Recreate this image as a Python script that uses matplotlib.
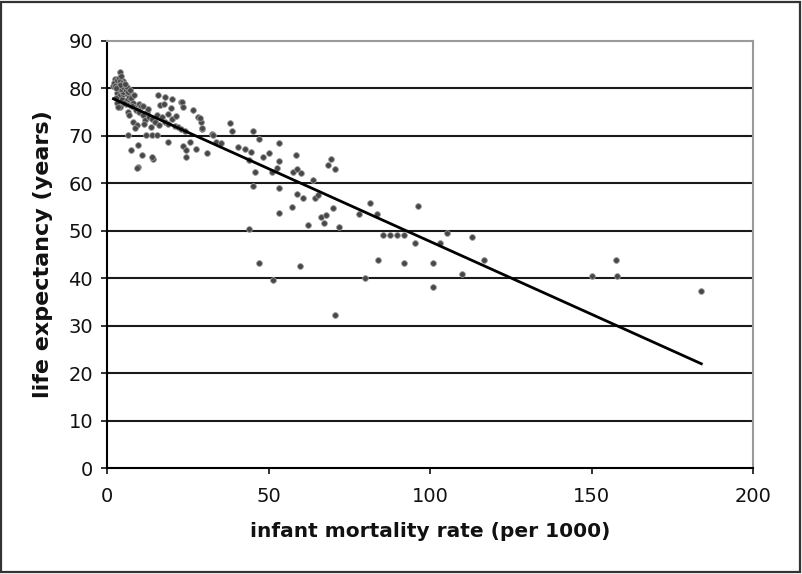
import numpy as np
import matplotlib
matplotlib.use("Agg")
import matplotlib.pyplot as plt
from matplotlib.patches import Rectangle

# infant mortality rate (per 1000)
infant_mortality = [
    2.5, 3.0, 3.5, 4.0, 4.2, 4.5, 5.0, 5.5, 3.0, 3.8, 4.5, 5.0, 5.5, 6.0, 6.3, 6.8,
    7.0, 7.5, 8.0, 8.5, 9.0, 2.8, 3.2, 4.0, 3.4, 5.8, 6.5, 6.8, 8.0, 9.3, 8.7, 10.0,
    11.0, 11.8, 12.5, 13.0, 14.0, 14.9, 15.5, 16.4, 15.8, 18.0, 20.1, 22.9, 19.8, 17.0,
    18.0, 19.0, 20.0, 21.0, 22.0, 23.0, 24.0, 12.0, 13.9, 15.5, 6.5, 9.6, 10.8, 14.2,
    9.6, 18.9, 23.5, 25.7, 24.5, 24.5, 27.6, 31.0, 23.2, 23.5, 26.6, 28.2, 29.0, 29.4,
    32.5, 32.8, 38.0, 38.7, 45.2, 47.0, 53.3, 33.7, 35.3, 40.6, 42.7, 44.6, 44.0, 48.3,
    50.2, 53.3, 58.5, 45.8, 51.0, 52.6, 57.6, 58.8, 60.0, 69.3, 68.4, 70.6, 63.8, 45.2,
    53.3, 58.8, 60.7, 64.4, 65.3, 57.3, 53.3, 70.0, 66.3, 67.8, 67.2, 62.2, 71.8, 44.0,
    47.0, 59.8, 51.4, 70.6, 81.4, 96.3, 83.6, 78.0, 85.3, 87.6, 89.8, 92.0, 105.3, 113.0,
    95.4, 103.0, 84.0, 92.0, 101.0, 116.7, 80.0, 110.0, 101.0, 150.0, 157.6, 158.0, 184.0,
    28.8, 29.4, 2.0, 3.6, 4.8, 5.2, 6.0, 7.2, 7.8, 8.4, 9.8, 10.5, 11.5, 12.8, 13.5,
    16.0, 17.5, 19.0, 21.5, 7.4, 9.3, 14.0, 11.2,
    2.2, 2.6, 3.1, 3.3, 3.7, 4.1, 4.4, 4.7, 5.1, 5.4, 5.9, 6.2, 6.6, 7.1, 3.9, 4.3,
    2.9, 5.6
]
# life expectancy (years)
life_expectancy = [
    82.0, 81.5, 80.5, 83.5, 81.0, 80.0, 81.5, 79.5, 79.0, 78.5, 77.8, 78.8, 80.8, 79.0, 77.5, 78.3,
    76.5, 78.0, 77.0, 76.0, 75.5, 78.0, 77.0, 76.0, 76.0, 76.8, 75.0, 74.4, 73.0, 72.3, 71.7, 75.0,
    74.5, 73.4, 75.0, 74.0, 73.5, 73.0, 74.5, 76.5, 78.6, 78.2, 77.8, 77.2, 75.9, 74.0,
    73.0, 72.5, 73.5, 72.0, 71.8, 71.5, 71.0, 70.2, 70.2, 70.2, 70.2, 68.1, 66.0, 65.1,
    63.4, 68.7, 67.9, 68.7, 67.0, 65.6, 67.2, 66.4, 77.1, 76.1, 75.5, 74.0, 73.0, 71.5,
    70.4, 70.2, 72.7, 71.0, 71.0, 69.3, 68.5, 68.7, 68.5, 67.7, 67.2, 66.6, 64.9, 65.6,
    66.4, 64.7, 66.0, 62.4, 62.4, 63.2, 62.4, 63.0, 62.2, 65.1, 63.9, 63.0, 60.7, 59.4,
    59.0, 57.8, 56.9, 56.9, 57.5, 55.0, 53.8, 54.8, 52.9, 53.3, 51.6, 51.2, 50.8, 50.4,
    43.2, 42.6, 39.6, 32.3, 55.9, 55.2, 53.5, 53.5, 49.1, 49.1, 49.1, 49.1, 49.5, 48.7,
    47.4, 47.4, 43.8, 43.2, 43.2, 43.8, 40.0, 40.9, 38.2, 40.5, 43.8, 40.5, 37.3,
    73.8, 71.7, 80.5, 79.8, 79.2, 77.0, 80.2, 79.4, 76.2, 78.6, 76.8, 76.2, 72.6, 75.6, 71.8,
    72.2, 76.8, 74.6, 74.2, 67.0, 63.2, 65.6, 76.4,
    81.2, 80.6, 81.8, 80.2, 82.2, 81.6, 79.8, 81.2, 80.4, 80.9, 79.6, 80.4, 79.2, 79.6, 80.8, 82.6,
    80.0, 81.0
]

x_ticks = [0, 50, 100, 150, 200]
y_ticks = [0, 10, 20, 30, 40, 50, 60, 70, 80, 90]
x_label = "infant mortality rate (per 1000)"
y_label = "life expectancy (years)"

x = np.array(infant_mortality)
y = np.array(life_expectancy)

fig = plt.figure(figsize=(8.02, 5.74), dpi=100)
ax = fig.add_axes([107/802, 1-468/574, (753-107)/802, (468-41)/574])

for v in y_ticks[1:-1]:
    ax.axhline(v, color="#1a1a1a", lw=1.5, zorder=1)

ax.scatter(x, y, s=17, marker="o", facecolor="#474747", edgecolor="#9a9a9a",
           linewidths=0.6, zorder=3)

slope, intercept = np.polyfit(x, y, 1)
xs = np.array([x.min(), x.max()])
ax.plot(xs, slope * xs + intercept, color="black", lw=2.0, zorder=4)

ax.set_xlim(0, 200)
ax.set_ylim(0, 90)
ax.set_xticks(x_ticks)
ax.set_yticks(y_ticks)
ax.tick_params(direction="out", length=4, width=1.2, labelsize=14,
               colors="#111111")
ax.tick_params(axis="x", pad=10)
ax.tick_params(axis="y", pad=6)
for s in ["left", "bottom"]:
    ax.spines[s].set_color("black")
    ax.spines[s].set_linewidth(1.5)
for s in ["top", "right"]:
    ax.spines[s].set_color("#9a9a9a")
    ax.spines[s].set_linewidth(1.5)

ax.set_xlabel(x_label, fontsize=14.5, fontweight="bold", labelpad=11, color="#111111")
ax.set_ylabel(y_label, fontsize=16, fontweight="bold", labelpad=11, color="#111111")

fig.patches.append(Rectangle((0.0015, 0.004), 0.996, 0.993, transform=fig.transFigure,
                             fill=False, edgecolor="#333333", lw=1.6))

fig.savefig("out.png", dpi=100)
